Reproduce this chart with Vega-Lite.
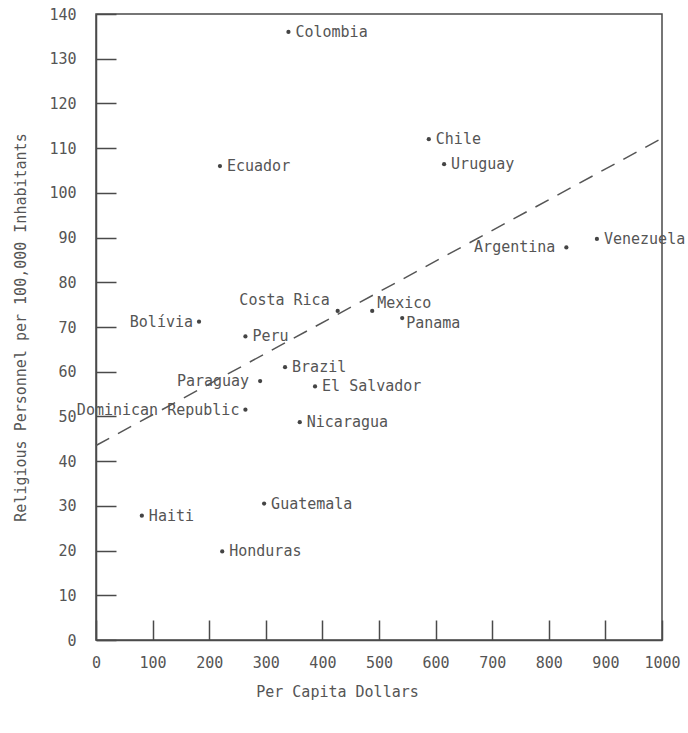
{
  "$schema": "https://vega.github.io/schema/vega-lite/v6.json",
  "width": 566,
  "height": 626,
  "autosize": "none",
  "padding": {"left": 96, "top": 14, "right": 26, "bottom": 93},
  "background": "white",
  "config": {
    "view": {"stroke": "#4a4a4a", "strokeWidth": 1.5},
    "font": "DejaVu Sans Mono",
    "axis": {
      "labelFont": "DejaVu Sans Mono",
      "titleFont": "DejaVu Sans Mono",
      "labelFontSize": 15,
      "titleFontSize": 15,
      "titleFontWeight": "normal",
      "labelColor": "#555555",
      "titleColor": "#555555",
      "domainColor": "#4a4a4a",
      "domainWidth": 1.5,
      "tickColor": "#4a4a4a",
      "tickWidth": 1.5,
      "grid": false
    }
  },
  "datasets": {
    "countries": [
      {"country": "Colombia", "dollars": 340, "personnel": 136},
      {"country": "Ecuador", "dollars": 219, "personnel": 106},
      {"country": "Chile", "dollars": 588, "personnel": 112},
      {"country": "Uruguay", "dollars": 615, "personnel": 106.4},
      {"country": "Argentina", "dollars": 831, "personnel": 87.8},
      {"country": "Venezuela", "dollars": 885, "personnel": 89.7},
      {"country": "Mexico", "dollars": 488, "personnel": 73.6},
      {"country": "Panama", "dollars": 541, "personnel": 72},
      {"country": "Costa Rica", "dollars": 427, "personnel": 73.6},
      {"country": "Bolívia", "dollars": 182, "personnel": 71.2},
      {"country": "Peru", "dollars": 264, "personnel": 67.9},
      {"country": "Brazil", "dollars": 334, "personnel": 61},
      {"country": "Paraguay", "dollars": 290, "personnel": 57.9},
      {"country": "El Salvador", "dollars": 387, "personnel": 56.7},
      {"country": "Dominican Republic", "dollars": 264, "personnel": 51.5},
      {"country": "Nicaragua", "dollars": 360, "personnel": 48.7},
      {"country": "Guatemala", "dollars": 297, "personnel": 30.5},
      {"country": "Haiti", "dollars": 81, "personnel": 27.8},
      {"country": "Honduras", "dollars": 223, "personnel": 19.8}
    ],
    "fit": [
      {"dollars": 0, "personnel": 43.5},
      {"dollars": 1000, "personnel": 112.2}
    ]
  },
  "layer": [
    {
      "data": {"name": "fit"},
      "mark": {"type": "line", "color": "#555555", "strokeWidth": 1.5, "strokeDash": [15, 10]},
      "encoding": {
        "x": {
          "field": "dollars", "type": "quantitative",
          "scale": {"domain": [0, 1000], "nice": false},
          "axis": {
            "title": "Per Capita Dollars",
            "values": [0, 100, 200, 300, 400, 500, 600, 700, 800, 900, 1000],
            "format": "d",
            "tickSize": -20,
            "labelPadding": 35,
            "titlePadding": 14,
            "titleX": 241,
            "labelFlush": false
          }
        },
        "y": {
          "field": "personnel", "type": "quantitative",
          "scale": {"domain": [0, 140], "nice": false},
          "axis": {
            "title": "Religious Personnel per 100,000 Inhabitants",
            "values": [0, 10, 20, 30, 40, 50, 60, 70, 80, 90, 100, 110, 120, 130, 140],
            "tickSize": -20,
            "labelPadding": 40,
            "titlePadding": 20,
            "labelFlush": false
          }
        }
      }
    },
    {
      "data": {"name": "countries"},
      "mark": {"type": "circle", "size": 18, "color": "#444444", "opacity": 1},
      "encoding": {
        "x": {"field": "dollars", "type": "quantitative"},
        "y": {"field": "personnel", "type": "quantitative"}
      }
    },
    {
      "data": {"name": "countries"},
      "transform": [{"filter": {"not": {"field": "country", "oneOf": ["Bolívia", "Paraguay", "Dominican Republic", "Argentina", "Costa Rica", "Mexico", "Panama"]}}}],
      "mark": {"type": "text", "align": "left", "baseline": "middle", "dx": 7, "fontSize": 15, "font": "DejaVu Sans Mono", "color": "#555555"},
      "encoding": {
        "x": {"field": "dollars", "type": "quantitative"},
        "y": {"field": "personnel", "type": "quantitative"},
        "text": {"field": "country"}
      }
    },
    {
      "data": {"name": "countries"},
      "transform": [{"filter": {"field": "country", "equal": "Mexico"}}],
      "mark": {"type": "text", "align": "left", "baseline": "middle", "dx": 5, "dy": -8, "fontSize": 15, "font": "DejaVu Sans Mono", "color": "#555555"},
      "encoding": {
        "x": {"field": "dollars", "type": "quantitative"},
        "y": {"field": "personnel", "type": "quantitative"},
        "text": {"field": "country"}
      }
    },
    {
      "data": {"name": "countries"},
      "transform": [{"filter": {"field": "country", "equal": "Panama"}}],
      "mark": {"type": "text", "align": "left", "baseline": "middle", "dx": 4, "dy": 5, "fontSize": 15, "font": "DejaVu Sans Mono", "color": "#555555"},
      "encoding": {
        "x": {"field": "dollars", "type": "quantitative"},
        "y": {"field": "personnel", "type": "quantitative"},
        "text": {"field": "country"}
      }
    },
    {
      "data": {"name": "countries"},
      "transform": [{"filter": {"field": "country", "oneOf": ["Bolívia", "Dominican Republic"]}}],
      "mark": {"type": "text", "align": "right", "baseline": "middle", "dx": -6, "fontSize": 15, "font": "DejaVu Sans Mono", "color": "#555555"},
      "encoding": {
        "x": {"field": "dollars", "type": "quantitative"},
        "y": {"field": "personnel", "type": "quantitative"},
        "text": {"field": "country"}
      }
    },
    {
      "data": {"name": "countries"},
      "transform": [{"filter": {"field": "country", "oneOf": ["Paraguay", "Argentina"]}}],
      "mark": {"type": "text", "align": "right", "baseline": "middle", "dx": -11, "fontSize": 15, "font": "DejaVu Sans Mono", "color": "#555555"},
      "encoding": {
        "x": {"field": "dollars", "type": "quantitative"},
        "y": {"field": "personnel", "type": "quantitative"},
        "text": {"field": "country"}
      }
    },
    {
      "data": {"name": "countries"},
      "transform": [{"filter": {"field": "country", "equal": "Costa Rica"}}],
      "mark": {"type": "text", "align": "right", "baseline": "middle", "dx": -8, "dy": -11, "fontSize": 15, "font": "DejaVu Sans Mono", "color": "#555555"},
      "encoding": {
        "x": {"field": "dollars", "type": "quantitative"},
        "y": {"field": "personnel", "type": "quantitative"},
        "text": {"field": "country"}
      }
    }
  ]
}
